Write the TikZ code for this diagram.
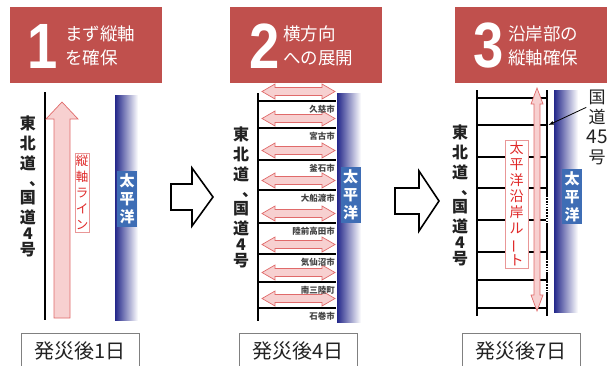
\documentclass[tikz,border=0pt]{standalone}
\usepackage{fontspec}
\usepackage{graphicx}
\newfontfamily\jp{Noto Sans CJK JP}
\newfontfamily\numfont{Liberation Sans}
\definecolor{headred}{HTML}{C0504D}
\definecolor{arrowred}{HTML}{E06A6A}
\definecolor{arrowpink}{HTML}{F7D0D0}
\definecolor{labelred}{HTML}{E02828}
\definecolor{seablue}{HTML}{3E6DB5}
\definecolor{bandblue}{HTML}{23278A}
\definecolor{darktext}{HTML}{222222}
\newcommand{\tohokutext}{東\\北\\道\\[-4pt]\hspace*{18pt}、\\[-2pt]国\\道\\[-4pt]4\\[-4pt]号}
\begin{document}
\begin{tikzpicture}[x=1pt,y=-1pt,>=latex,
  road/.style={line width=2.6pt},
  branch/.style={line width=1.6pt},
  pinkarrow/.style={draw=arrowred,fill=arrowpink,line width=0.7pt},
  hollow/.style={draw=black,fill=white,line width=1.6pt},
  headbox/.style={fill=headred,minimum width=152pt,minimum height=76pt,inner sep=0pt},
  headnum/.style={text=white,font=\numfont\bfseries\fontsize{64}{64}\selectfont,xscale=.85,inner sep=0pt},
  headtext/.style={text=white,font=\jp\fontsize{17.5}{24}\selectfont,align=left,anchor=west,inner sep=0pt},
  roadname/.style={font=\jp\bfseries\fontsize{16}{20}\selectfont,text=darktext,align=center,inner sep=0pt},
  sealabel/.style={fill=seablue,text=white,font=\jp\bfseries\fontsize{15}{18}\selectfont,align=center,inner sep=2.5pt},
  routelabel/.style={draw=arrowred!70,fill=white,text=labelred,align=center,inner ysep=2pt},
  cityname/.style={font=\jp\bfseries\fontsize{8.5}{9}\selectfont,anchor=east,inner sep=0pt,text=darktext!85},
  daybox/.style={draw=gray,line width=.8pt,fill=white,minimum width=118pt,minimum height=36pt,font=\jp\fontsize{20}{20}\selectfont,anchor=north,text=darktext}
]
\useasboundingbox (0,0) rectangle (615,365);

% sea bands
\shade[left color=bandblue,right color=white] (115,95) rectangle (138,320);
\shade[left color=bandblue,right color=white] (337,93) rectangle (361,322);
\shade[left color=bandblue,right color=white] (554,90) rectangle (578,312);

% panel 1: main axis
\draw[road] (45,92) -- (45,320);
\draw[pinkarrow] (62,102) -- (78,119) -- (70,119) -- (70,318) -- (54,318) -- (54,119) -- (46,119) -- cycle;
\node[routelabel,font=\jp\fontsize{12.5}{16}\selectfont,inner xsep=1pt] (axis1) at (82,192.5) {縦\\軸\\ラ\\イ\\ン};
\node[sealabel] (sea1) at (127,199) {太\\平\\洋};
\node[roadname] (road1) at (28,186) {\tohokutext};

% panel 2: branches to the coast
\draw[road] (258,93) -- (258,321);
\foreach \y in {101,128,160,190,223,254,282,308}
{
	\draw[branch] (258,\y) -- (336,\y);
	\pgfmathsetmacro\ay{\y-9.5}
	\draw[pinkarrow] (262,\ay) -- ++(13,-7.5) -- ++(0,3.5) -- (322,\ay-4) -- ++(0,-3.5) -- (335,\ay) -- ++(-13,7.5) -- ++(0,-3.5) -- (275,\ay+4) -- ++(0,3.5) -- cycle;
}
\foreach \y/\cname in {101/久慈市,128/宮古市,160/釜石市,190/大船渡市,223/陸前高田市,254/気仙沼市,282/南三陸町,308/石巻市}
	\node[cityname] at (335,\y+8) {\cname};
\node[sealabel] (sea2) at (350.5,195) {太\\平\\洋};
\node[roadname] (road2) at (241,197) {\tohokutext};

% panel 3: coastal axis
\foreach \y in {98,125,157,188,220,252,280,308}
	\draw[branch] (477,\y) -- (547,\y);
\draw[road] (477,90) -- (477,316);
\draw[road] (547,90) -- (547,316);
\foreach \a/\b in {197/223,260/272,283/292}
	\draw[white,line width=1.8pt,dash pattern=on 1.2pt off 1.6pt] (547,\a) -- (547,\b);
\draw[pinkarrow] (537,88) -- (543,104) -- (540,104) -- (540,295) -- (543,295) -- (537,311) -- (531,295) -- (534,295) -- (534,104) -- (531,104) -- cycle;
\node[routelabel,font=\jp\fontsize{14}{16}\selectfont,inner xsep=4.5pt] (coast3) at (516.5,204) {太\\平\\洋\\沿\\岸\\ル\\\rotatebox[origin=c]{90}{ー}\\ト};
\node[sealabel] (sea3) at (572,196.5) {太\\平\\洋};
\node[roadname] (road3) at (460,195) {\tohokutext};
\node[font=\jp\fontsize{17}{20}\selectfont,align=center,inner sep=0pt,text=darktext] (r45name) at (597,127) {国\\道\\{\fontsize{19}{20}\selectfont 45}\\号};
\coordinate (r45) at (548.5,125);
\draw[->,line width=.8pt] ([yshift=-18pt]r45name.north west) -- (r45);

% step arrows
\draw[hollow] (171,184) -- (192,184) -- (192,168) -- (213,197) -- (192,226) -- (192,210) -- (171,210) -- cycle;
\draw[hollow] (395,188) -- (419,188) -- (419,171) -- (439,201) -- (419,231) -- (419,214) -- (395,214) -- cycle;

% headers
\node[headbox] (head1) at (86,45) {};
\node[headnum] (num1) at (43,46) {1};
\node[headtext] (text1) at (65,46) {まず縦軸\\を確保};
\node[headbox] (head2) at (306,45) {};
\node[headnum] (num2) at (265,46) {2};
\node[headtext] (text2) at (283,46) {横方向\\への展開};
\node[headbox] (head3) at (531,45) {};
\node[headnum] (num3) at (489,46) {3};
\node[headtext] (text3) at (508,46) {沿岸部の\\縦軸確保};

% days
\node[daybox] (day1) at (80,333) {発災後1日};
\node[daybox] (day2) at (298,333) {発災後4日};
\node[daybox] (day3) at (521,333) {発災後7日};
\end{tikzpicture}
\end{document}
